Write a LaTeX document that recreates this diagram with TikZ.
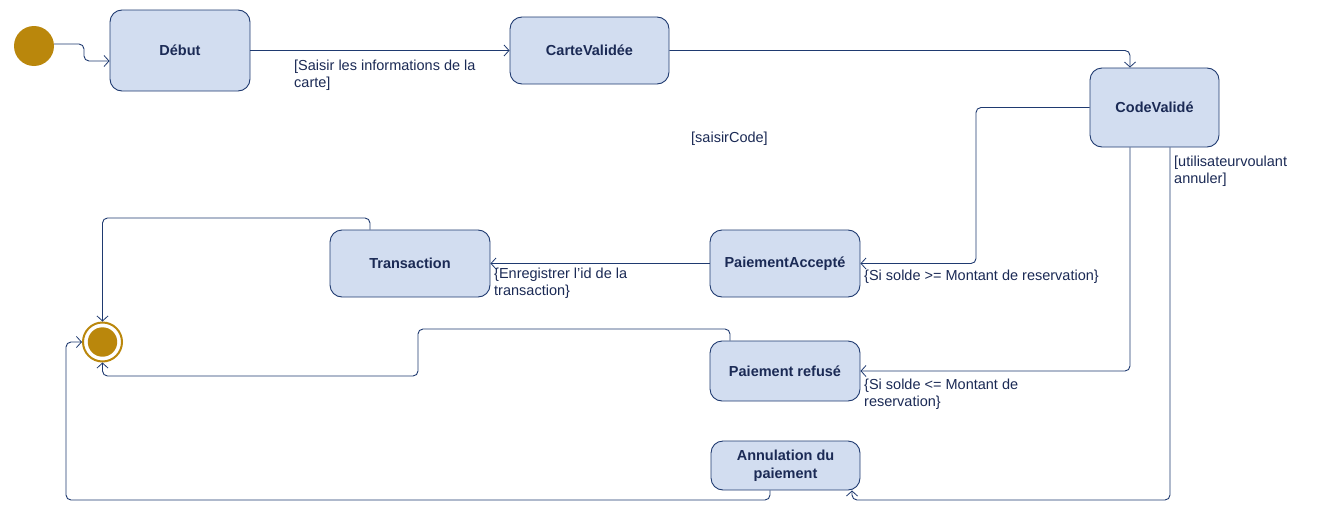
\documentclass[tikz,border=0pt]{standalone}
\usepackage{fontspec}
\setmainfont{Liberation Sans}
\usetikzlibrary{arrows.meta,calc}
\definecolor{navy}{HTML}{1F3A70}
\definecolor{boxfill}{HTML}{D2DDF0}
\definecolor{txtnavy}{HTML}{1B2A55}
\definecolor{gold}{HTML}{BA870C}
\tikzset{
  x=1pt, y=-1pt,
  statebox/.style={draw=navy, fill=boxfill, rounded corners=12pt, line width=0.9pt,
    font=\bfseries\fontsize{14.5}{18}\selectfont, text=txtnavy, align=center, inner sep=0pt},
  conn/.style={draw=navy, line width=0.9pt, rounded corners=5pt,
    -{Straight Barb[length=5pt,width=11pt,line width=0.8pt]}},
  lbl/.style={font=\fontsize{14.5}{17}\selectfont, text=txtnavy, align=left, inner sep=0pt, anchor=north west}
}
\begin{document}
\begin{tikzpicture}
\useasboundingbox (0,0) rectangle (1335,522);
\fill[white] (0,0) rectangle (1335,522);

% initial and final states
\node[circle, fill=gold, minimum size=40pt, inner sep=0pt] (init) at (34,46) {};
\node[circle, draw=gold, line width=2pt, fill=white, minimum size=39pt, inner sep=0pt] (final) at (102.5,342) {};
\fill[gold] (final.center) circle (14.7pt);

% states
\node[statebox, minimum width=140pt, minimum height=81pt] (debut) at (180,50.5) {Début};
\node[statebox, minimum width=159pt, minimum height=67pt] (carte) at (589.5,50.5) {CarteValidée};
\node[statebox, minimum width=129pt, minimum height=79pt] (code) at (1154.5,107.5) {CodeValidé};
\node[statebox, minimum width=160pt, minimum height=67pt] (trans) at (410,263.5) {Transaction};
\node[statebox, minimum width=150pt, minimum height=67pt] (accepte) at (785,263.5) {PaiementAccepté};
\node[statebox, minimum width=150pt, minimum height=60pt] (refuse) at (785,371) {Paiement refusé};
\node[statebox, minimum width=149pt, minimum height=49pt] (annul) at (785.5,465.5) {Annulation du\\paiement};

% connectors
\draw[conn] (init.east |- 0,44) -- (84,44) |- ($(debut.west)+(0,10.5)$);
\draw[conn] (debut.east) -- (carte.west);
\draw[conn] (carte.east) -| ($(code.north)+(-24.5,0)$);
\draw[conn] (code.west) -- (976,107.5) |- (accepte.east);
\draw[conn] ($(code.south)+(-24.5,0)$) |- (refuse.east);
\draw[conn] ($(code.south)+(15.5,0)$) -- (1170,500) -| ($(annul.south)+(66.5,0)$);
\draw[conn] (accepte.west) -- (trans.east);
\draw[conn] ($(trans.north)+(-40,0)$) -- (370,218) -| (final.north);
\draw[conn] ($(refuse.north)+(-55,0)$) -- (730,329) -| (418,376) -| (final.south);
\draw[conn] ($(annul.south)+(-15.5,0)$) -- (770,500) -- (66,500) |- (final.west);

% labels
\node[lbl] (l1) at (294,60) {[Saisir les informations de la\\carte]};
\node[lbl, anchor=west] (l2) at (691,139) {[saisirCode]};
\node[lbl] (l3) at (1174,155.5) {[utilisateurvoulant\\annuler]};
\node[lbl] (l4) at (494,268) {\{Enregistrer l\symbol{39}id de la\\transaction\}};
\node[lbl] (l5) at (864,270) {\{Si solde >= Montant de reservation\}};
\node[lbl] (l6) at (864,378.5) {\{Si solde <= Montant de\\reservation\}};
\end{tikzpicture}
\end{document}
